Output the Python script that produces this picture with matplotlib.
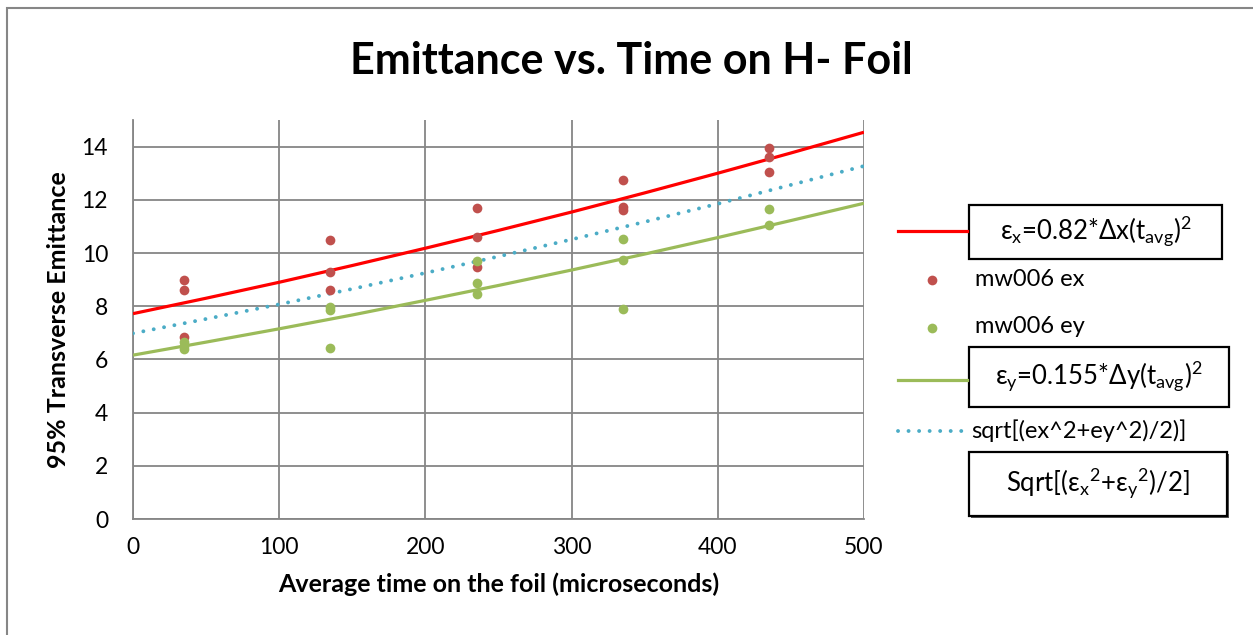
import matplotlib as mpl
import matplotlib.pyplot as plt
from matplotlib.lines import Line2D
from matplotlib.patches import Rectangle

mpl.rcParams['font.family'] = ['Lato', 'DejaVu Sans']
mpl.rcParams['mathtext.fontset'] = 'custom'
mpl.rcParams['mathtext.rm'] = 'Lato'
mpl.rcParams['mathtext.it'] = 'Lato'
mpl.rcParams['mathtext.bf'] = 'Lato:bold'
mpl.rcParams['mathtext.fallback'] = 'stixsans'

# measured emittance at each average foil time
t_ex = [35, 35, 35, 135, 135, 135, 235, 235, 235, 335, 335, 335, 435, 435, 435]
ex = [9.0, 8.6, 6.85, 10.5, 9.3, 8.6, 11.7, 10.6, 9.47, 12.73, 11.72, 11.62, 13.94, 13.6, 13.05]
t_ey = [35, 35, 35, 135, 135, 135, 235, 235, 235, 335, 335, 335, 435, 435]
ey = [6.65, 6.5, 6.4, 7.97, 7.85, 6.44, 9.7, 8.89, 8.46, 10.52, 9.73, 7.88, 11.67, 11.06]

# model curves
t_fit = [0, 50, 100, 150, 200, 250, 300, 350, 400, 450, 500]
ex_fit = [7.72, 8.30, 8.90, 9.53, 10.18, 10.85, 11.54, 12.26, 13.00, 13.76, 14.54]
ey_fit = [6.16, 6.65, 7.15, 7.67, 8.22, 8.78, 9.36, 9.96, 10.58, 11.22, 11.87]
e_rms = [6.98, 7.52, 8.07, 8.65, 9.25, 9.87, 10.51, 11.17, 11.85, 12.56, 13.27]

W, H = 1253, 635
fig = plt.figure(figsize=(W / 100, H / 100), dpi=100)
ax = fig.add_axes([133 / W, 1 - 519 / H, (864 - 133) / W, (519 - 120) / H])

ax.plot(t_fit, ex_fit, color='#FF0000', lw=2.3, solid_capstyle='butt', zorder=3)
ax.plot(t_ex, ex, 'o', color='#C0504D', ms=7, mec='none', zorder=4)
ax.plot(t_ey, ey, 'o', color='#9BBB59', ms=7, mec='none', zorder=4)
ax.plot(t_fit, ey_fit, color='#9BBB59', lw=2.3, solid_capstyle='butt', zorder=3)
ax.plot(t_fit, e_rms, color='#4BACC6', lw=2.8, ls=(0, (0.01, 2.7)),
        dash_capstyle='round', zorder=3)

ax.set_xlim(0, 500)
ax.set_ylim(0, 15)
ax.set_xticks(range(0, 501, 100))
ax.set_yticks(range(0, 15, 2))
ax.grid(True, color='#868686', lw=1.3)
ax.set_axisbelow(True)
for s in ['top', 'right']:
    ax.spines[s].set_visible(False)
for s in ['left', 'bottom']:
    ax.spines[s].set_color('#868686')
    ax.spines[s].set_linewidth(1.3)
ax.tick_params(length=0, labelsize=16.5)
ax.tick_params(axis='x', pad=13)
ax.tick_params(axis='y', pad=18)

ax.set_xlabel('Average time on the foil (microseconds)', fontsize=18,
              fontweight='bold', labelpad=10)
ax.set_ylabel('95% Transverse Emittance', fontsize=18, fontweight='bold', labelpad=8)
fig.text(631 / W, 1 - 61 / H, 'Emittance vs. Time on H- Foil', fontsize=31,
         fontweight='bold', ha='center', va='center')

# outer chart border
fig.add_artist(Rectangle((7 / W, -0.1), 1.2, 1 - 8 / H + 0.1, transform=fig.transFigure,
                         fill=False, ec='#868686', lw=1.5))


def fx(x):
    return x / W


def fy(y):
    return 1 - y / H


def handle(y, **kw):
    fig.add_artist(Line2D([fx(898), fx(967)], [fy(y), fy(y)], transform=fig.transFigure, **kw))


def box(x0, y0, x1, y1, text, shadow=False):
    if shadow:
        fig.add_artist(Rectangle((fx(x0 + 2), fy(y1 + 2)), fx(x1 - x0), (y1 - y0) / H,
                                 transform=fig.transFigure, fc='#555555', ec='none'))
    fig.add_artist(Rectangle((fx(x0), fy(y1)), fx(x1 - x0), (y1 - y0) / H,
                             transform=fig.transFigure, fc='white', ec='black', lw=1.6))
    fig.text(fx((x0 + x1) / 2), fy((y0 + y1) / 2), text, fontsize=18.5,
             ha='center', va='center')


handle(231, color='#FF0000', lw=2.3)
box(969, 205, 1222, 259, r'$\mathrm{\varepsilon}_{\mathrm{x}}$=0.82*$\mathrm{\Delta}$x(t$_{\mathrm{avg}}$)$^{2}$')

fig.add_artist(Line2D([fx(932)], [fy(280)], transform=fig.transFigure, marker='o',
                      color='#C0504D', ms=7, mec='none'))
fig.text(fx(975), fy(280), 'mw006 ex', fontsize=17, va='center')
fig.add_artist(Line2D([fx(932)], [fy(328)], transform=fig.transFigure, marker='o',
                      color='#9BBB59', ms=7, mec='none'))
fig.text(fx(975), fy(327), 'mw006 ey', fontsize=17, va='center')

handle(380, color='#9BBB59', lw=2.3)
box(969, 347, 1229, 407, r'$\mathrm{\varepsilon}_{\mathrm{y}}$=0.155*$\mathrm{\Delta}$y(t$_{\mathrm{avg}}$)$^{2}$')

handle(431, color='#4BACC6', lw=2.8, ls=(0, (0.01, 2.7)), dash_capstyle='round')
fig.text(fx(971), fy(431), 'sqrt[(ex^2+ey^2)/2)]', fontsize=17, va='center')

box(969, 452, 1227, 516,
    r'Sqrt[($\mathrm{\varepsilon}_{\mathrm{x}}$$^{2}$+$\mathrm{\varepsilon}_{\mathrm{y}}$$^{2}$)/2]',
    shadow=True)

fig.savefig('out.png', dpi=100)
